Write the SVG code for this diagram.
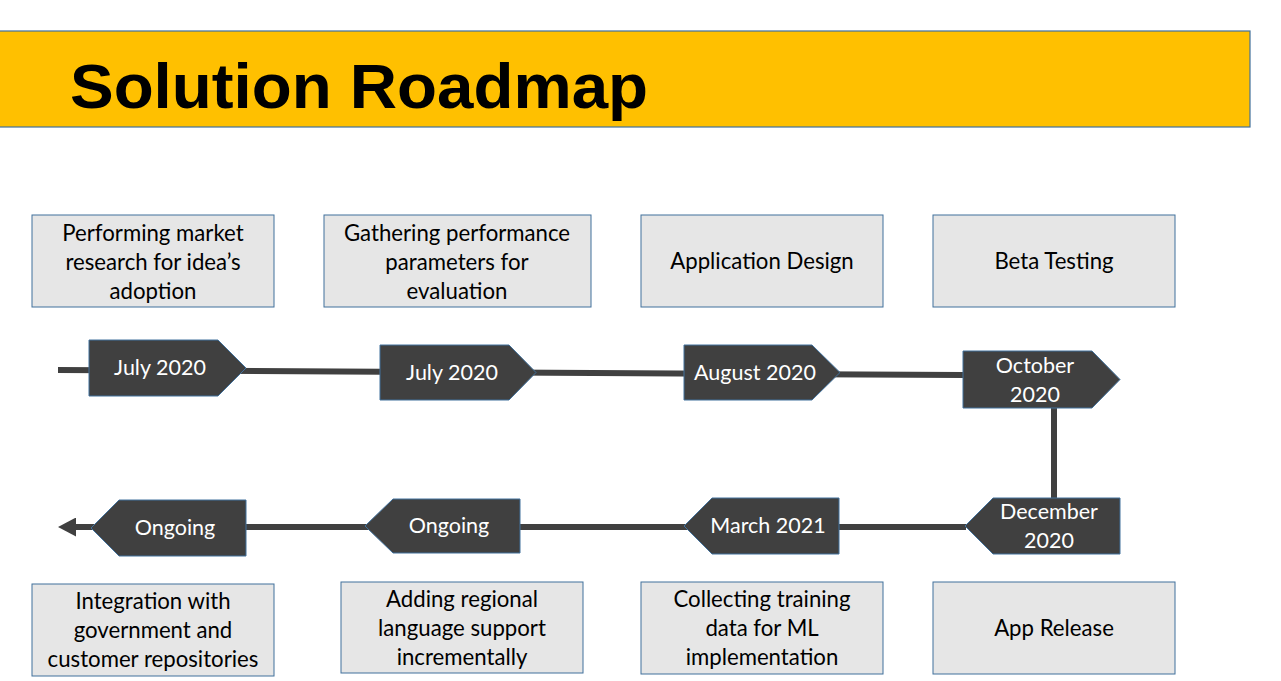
<svg xmlns="http://www.w3.org/2000/svg" width="1281" height="681" viewBox="0 0 1281 681">
  <style>
    .box { fill: #E6E6E6; stroke: #41719C; stroke-width: 1; }
    .tag { fill: #404040; stroke: #41719C; stroke-width: 1; }
    .btxt { font-family: Lato, "Open Sans", sans-serif; font-size: 22.2px; fill: #000000; text-anchor: middle; }
    .ttxt { font-family: Lato, "Open Sans", sans-serif; font-size: 21.5px; fill: #FFFFFF; text-anchor: middle; }
    .line { fill: none; stroke: #404040; stroke-width: 6; }
  </style>
  <defs>
    <marker id="arrow" viewBox="0 0 10 10" refX="0" refY="5" markerWidth="18" markerHeight="19" markerUnits="userSpaceOnUse" preserveAspectRatio="none" orient="auto">
      <path d="M0 0 L10 5 L0 10 Z" fill="#404040"/>
    </marker>
  </defs>
  <rect width="1281" height="681" fill="#FFFFFF"/>

  <!-- title banner -->
  <g id="title">
    <rect x="-1" y="31" width="1251" height="96" fill="#FFC000" stroke="#41719C" stroke-width="1.2"/>
    <text x="70" y="108" font-family="'Liberation Sans', Arial, sans-serif" font-weight="bold" font-size="63" textLength="578" lengthAdjust="spacingAndGlyphs" fill="#000000">Solution Roadmap</text>
  </g>

  <!-- timeline connectors -->
  <g id="connectors">
    <path class="line" d="M58 370 L963 375"/>
    <path class="line" d="M1054 405 L1054 500"/>
    <path class="line" d="M966 527 L76 527" marker-end="url(#arrow)"/>
  </g>

  <!-- milestones, top row -->
  <g id="m1">
    <rect class="box" x="32" y="215" width="242" height="92"/>
    <text class="btxt" x="153" y="241">Performing market</text>
    <text class="btxt" x="153" y="270">research for idea’s</text>
    <text class="btxt" x="153" y="299">adoption</text>
    <path class="tag" d="M89 340 H218 L246 368 L218 396 H89 Z"/>
    <text class="ttxt" x="160" y="375">July 2020</text>
  </g>
  <g id="m2">
    <rect class="box" x="324" y="215" width="267" height="92"/>
    <text class="btxt" x="457" y="241">Gathering performance</text>
    <text class="btxt" x="457" y="270">parameters for</text>
    <text class="btxt" x="457" y="299">evaluation</text>
    <path class="tag" d="M380 345 H509 L536 372.5 L509 400 H380 Z"/>
    <text class="ttxt" x="452" y="380">July 2020</text>
  </g>
  <g id="m3">
    <rect class="box" x="641" y="215" width="242" height="92"/>
    <text class="btxt" x="762" y="269">Application Design</text>
    <path class="tag" d="M684 345 H812 L840 372.5 L812 400 H684 Z"/>
    <text class="ttxt" x="755" y="380">August 2020</text>
  </g>
  <g id="m4">
    <rect class="box" x="933" y="215" width="242" height="92"/>
    <text class="btxt" x="1054" y="269">Beta Testing</text>
    <path class="tag" d="M963 351 H1092 L1120 379.5 L1092 408 H963 Z"/>
    <text class="ttxt" x="1035" y="373">October</text>
    <text class="ttxt" x="1035" y="402">2020</text>
  </g>

  <!-- milestones, bottom row -->
  <g id="m5">
    <path class="tag" d="M1120 498 H993 L965 526 L993 554 H1120 Z"/>
    <text class="ttxt" x="1049" y="519">December</text>
    <text class="ttxt" x="1049" y="548">2020</text>
    <rect class="box" x="933" y="582" width="242" height="92"/>
    <text class="btxt" x="1054" y="636">App Release</text>
  </g>
  <g id="m6">
    <path class="tag" d="M839 498 H712 L684 526 L712 554 H839 Z"/>
    <text class="ttxt" x="768" y="533">March 2021</text>
    <rect class="box" x="641" y="582" width="242" height="92"/>
    <text class="btxt" x="762" y="607">Collecting training</text>
    <text class="btxt" x="762" y="636">data for ML</text>
    <text class="btxt" x="762" y="665">implementation</text>
  </g>
  <g id="m7">
    <path class="tag" d="M520 499 H393 L365 526 L393 553 H520 Z"/>
    <text class="ttxt" x="449" y="533">Ongoing</text>
    <rect class="box" x="341" y="582" width="242" height="91"/>
    <text class="btxt" x="462" y="607">Adding regional</text>
    <text class="btxt" x="462" y="636">language support</text>
    <text class="btxt" x="462" y="665">incrementally</text>
  </g>
  <g id="m8">
    <path class="tag" d="M246 500 H119 L91 528 L119 556 H246 Z"/>
    <text class="ttxt" x="175" y="535">Ongoing</text>
    <rect class="box" x="32" y="584" width="242" height="92"/>
    <text class="btxt" x="153" y="609">Integration with</text>
    <text class="btxt" x="153" y="638">government and</text>
    <text class="btxt" x="153" y="667">customer repositories</text>
  </g>
</svg>
